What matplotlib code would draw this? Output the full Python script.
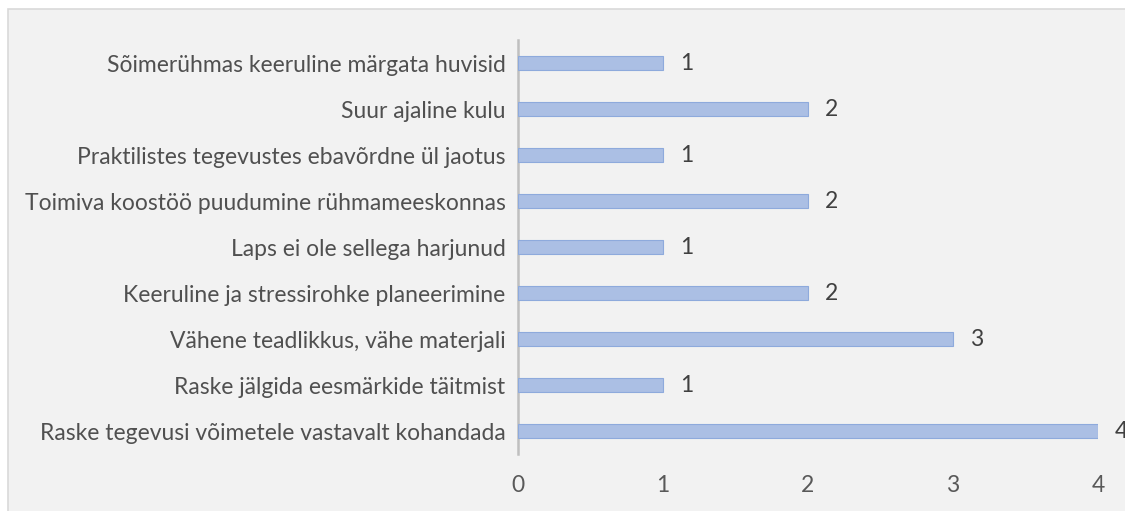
import matplotlib.pyplot as plt
from matplotlib.patches import Rectangle

categories = [
    'Raske tegevusi võimetele vastavalt kohandada',
    'Raske jälgida eesmärkide täitmist',
    'Vähene teadlikkus, vähe materjali',
    'Keeruline ja stressirohke planeerimine',
    'Laps ei ole sellega harjunud',
    'Toimiva koostöö puudumine rühmameeskonnas',
    'Praktilistes tegevustes ebavõrdne ül jaotus',
    'Suur ajaline kulu',
    'Sõimerühmas keeruline märgata huvisid',
]
values = [4, 1, 3, 2, 1, 2, 1, 2, 1]
xticks = [0, 1, 2, 3, 4]

plt.rcParams['font.family'] = ['Lato', 'DejaVu Sans']
fs = 16.5

fig = plt.figure(figsize=(11.25, 5.11), dpi=100)
fig.patch.set_facecolor('white')
fig.patches.append(Rectangle((8 / 1125, -0.01), 1.02, (511 - 9) / 511 + 0.01,
                             transform=fig.transFigure, facecolor='#f2f2f2',
                             edgecolor='#d9d9d9', linewidth=1.2, zorder=-1))

ax = fig.add_axes([518 / 1125, 57 / 511, 580 / 1125, 414 / 511])
ax.set_facecolor('none')
ax.set_zorder(1)

y = range(len(categories))
bars = ax.barh(y, values, height=0.3, color='#abbfe4', edgecolor='#8eaadc',
               linewidth=0.8, zorder=3)
for yi, v in zip(y, values):
    ax.annotate(str(v), (v, yi), xytext=(12, 0), textcoords='offset points',
                va='center', ha='left', fontsize=fs, color='#404040',
                annotation_clip=False)

ax.set_xlim(0, 4)
ax.set_ylim(-0.5, len(categories) - 0.5)
ax.set_yticks(list(y))
ax.set_yticklabels(categories, fontsize=fs, color='#505050')
ax.set_xticks(xticks)
ax.set_xticklabels([str(t) for t in xticks], fontsize=fs, color='#595959')
ax.tick_params(axis='y', length=0, pad=9)
ax.tick_params(axis='x', length=0, pad=15)
for s in ['top', 'right', 'bottom']:
    ax.spines[s].set_visible(False)
ax.spines['left'].set_color('#bfbfbf')
ax.spines['left'].set_linewidth(1.8)

fig.savefig('out.png', dpi=100)
